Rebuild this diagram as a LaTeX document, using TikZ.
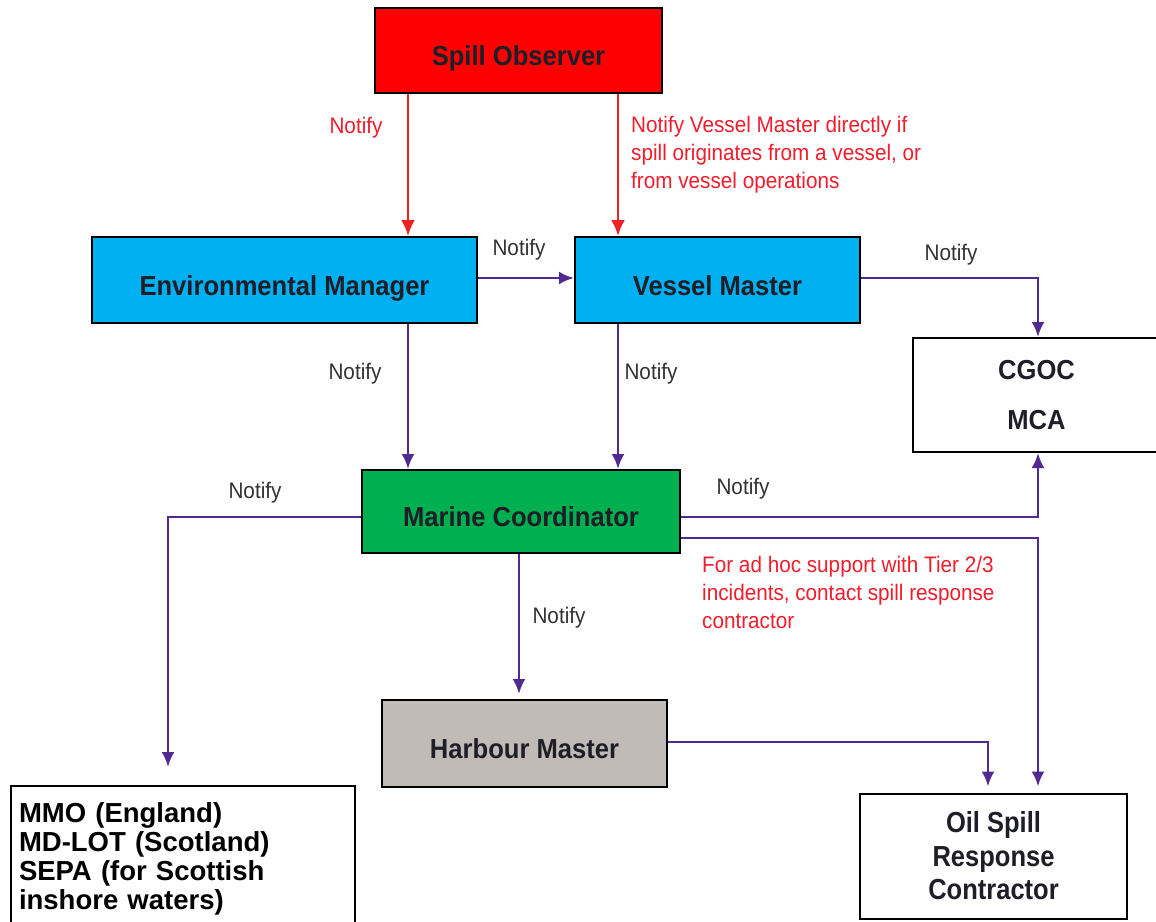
\documentclass[tikz,border=0pt]{standalone}
\usepackage{fontspec}
\setmainfont{Liberation Sans}
\newfontfamily\nfont[FakeStretch=0.93]{Liberation Sans}
\newfontfamily\lfont[FakeStretch=0.92]{Liberation Sans}
\newfontfamily\ofont[FakeStretch=0.88]{Liberation Sans}
\usetikzlibrary{arrows.meta}
\definecolor{sored}{RGB}{255,0,0}
\definecolor{skyb}{RGB}{0,176,240}
\definecolor{mgreen}{RGB}{0,176,80}
\definecolor{hgray}{RGB}{192,187,182}
\definecolor{purp}{RGB}{80,42,145}
\definecolor{arrred}{RGB}{235,35,35}
\definecolor{txtred}{RGB}{240,30,45}
\definecolor{notegray}{RGB}{50,50,50}
\definecolor{boxtxt}{RGB}{30,30,40}
\begin{document}
\begin{tikzpicture}[x=1pt,y=-1pt,
  frame/.style={draw=black, line width=2pt, inner sep=0pt},
  box/.style={frame, font=\nfont\bfseries\fontsize{27.5}{32}\selectfont, text=boxtxt, text height=35pt, text depth=5pt},
  parr/.style={draw=purp, line width=2.8pt, -{Latex[length=15pt,width=13pt]}},
  rarr/.style={draw=arrred, line width=2.5pt, -{Latex[length=16pt,width=14pt]}},
  nlab/.style={font=\lfont\fontsize{22.5}{28}\selectfont, text=notegray, inner sep=0pt},
  rnote/.style={nlab, text=txtred, align=left}
]
\useasboundingbox (0,0) rectangle (1156,921);
\clip (0,0) rectangle (1156,921);
\fill[white] (0,0) rectangle (1156,921);

% boxes
\node[box, fill=sored, minimum width=287pt, minimum height=85pt] (so) at (518.5,50.5) {Spill Observer};
\node[box, fill=skyb, minimum width=385pt, minimum height=86pt] (em) at (284.5,280) {Environmental Manager};
\node[box, fill=skyb, minimum width=285pt, minimum height=86pt] (vm) at (717.5,280) {Vessel Master};
\node[frame, fill=white, minimum width=247pt, minimum height=114pt, align=center,
      font=\nfont\bfseries\fontsize{27.5}{50}\selectfont, text=boxtxt] (cg) at (1036.5,395) {CGOC\\MCA};
\node[box, fill=mgreen, minimum width=318pt, minimum height=83pt] (mc) at (521,511.5) {Marine Coordinator};
\node[box, fill=hgray, minimum width=285pt, minimum height=87pt] (hm) at (524.5,743.5) {Harbour Master};
\node[frame, fill=white, anchor=north west, inner xsep=8pt, inner ysep=17pt, text width=328pt, align=left,
      font=\bfseries\fontsize{27.5}{29}\selectfont, text=black] (mmo) at (10,785)
      {MMO (England)\\MD-LOT (Scotland)\\SEPA (for Scottish\\inshore waters)};
\node[frame, fill=white, minimum width=267pt, minimum height=125pt, align=center,
      font=\ofont\bfseries\fontsize{29}{33.5}\selectfont, text=boxtxt] (os) at (993.5,856)
      {Oil Spill\\Response\\Contractor};

% guide coordinates
\coordinate (c1) at (408,0);
\coordinate (c2) at (618,0);
\coordinate (c3) at (1038,0);
\coordinate (c4) at (168,0);
\coordinate (c5) at (519,0);
\coordinate (c6) at (988,0);
\coordinate (r1) at (0,278);
\coordinate (r2) at (0,517);
\coordinate (r3) at (0,538);
\coordinate (r4) at (0,742);

% connectors
\draw[rarr] (so.south -| c1) -- (em.north -| c1);
\draw[rarr] (so.south -| c2) -- (vm.north -| c2);
\draw[parr] (em.east |- r1) -- (vm.west |- r1);
\draw[parr] (vm.east |- r1) -| (cg.north -| c3);
\draw[parr] (em.south -| c1) -- (mc.north -| c1);
\draw[parr] (vm.south -| c2) -- (mc.north -| c2);
\draw[parr, shorten >=18pt] (mc.west |- r2) -| (mmo.north -| c4);
\draw[parr] (mc.east |- r2) -| (cg.south -| c3);
\draw[parr, shorten >=6pt] (mc.east |- r3) -| (os.north -| c3);
\draw[parr, shorten >=5pt] (mc.south -| c5) -- (hm.north -| c5);
\draw[parr, shorten >=6pt] (hm.east |- r4) -| (os.north -| c6);

% labels
\node[nlab, text=txtred] (l1) at (356,128) {Notify};
\node[rnote, anchor=west] (l2) at (631,155) {Notify Vessel Master directly if\\spill originates from a vessel, or\\from vessel operations};
\node[nlab] (l3) at (519,250) {Notify};
\node[nlab] (l4) at (951,255) {Notify};
\node[nlab] (l5) at (355,374) {Notify};
\node[nlab] (l6) at (651,374) {Notify};
\node[nlab] (l7) at (255,493) {Notify};
\node[nlab] (l8) at (743,489) {Notify};
\node[nlab] (l9) at (559,618) {Notify};
\node[rnote, anchor=west] (l10) at (702,592) {For ad hoc support with Tier 2/3\\incidents, contact spill response\\contractor};
\end{tikzpicture}
\end{document}
